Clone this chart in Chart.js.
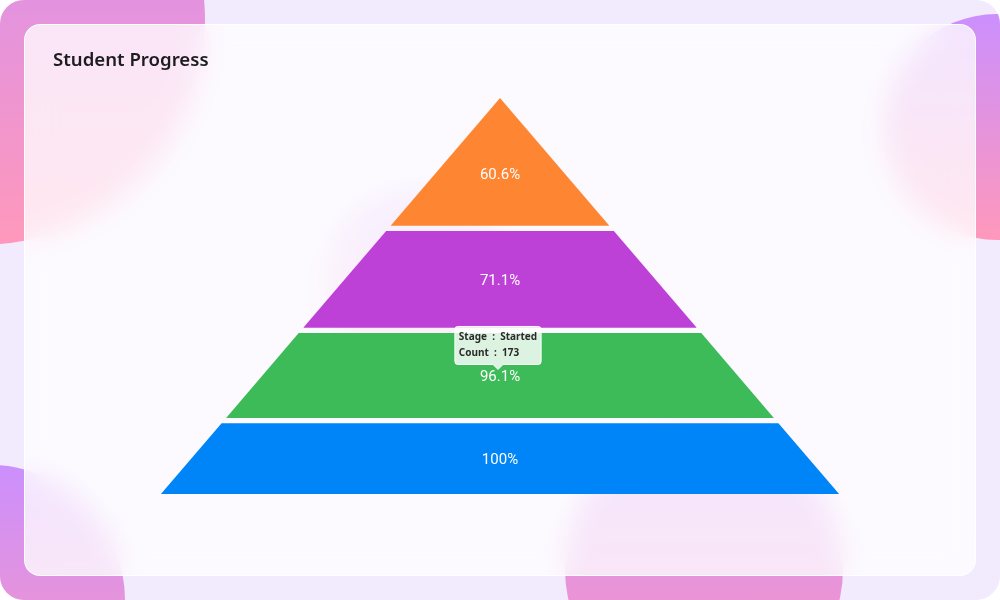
<!DOCTYPE html>
<html>
<head>
<meta charset="utf-8">
<title>Student Progress</title>
<script src="https://cdn.jsdelivr.net/npm/chart.js@4.4.1/dist/chart.umd.min.js"></script>
<style>
  html, body { margin: 0; padding: 0; background: #ffffff; }
  .frame {
    position: relative;
    width: 1000px;
    height: 600px;
    border-radius: 24px;
    overflow: hidden;
    background: #f2eafd;
  }
  .blob {
    position: absolute;
    border-radius: 50%;
    background: linear-gradient(180deg, #cb8ffd 0%, #ff98bb 100%);
  }
  .card {
    position: absolute;
    left: 24px;
    top: 24px;
    width: 952px;
    height: 552px;
    box-sizing: border-box;
    border-radius: 16px;
    border: 1px solid rgba(255, 255, 255, 0.9);
    background: rgba(255, 255, 255, 0.77);
    backdrop-filter: blur(14px);
  }
  .title {
    position: absolute;
    left: 28px;
    top: 25px;
    margin: 0;
    font: 600 18.6px "Noto Sans", sans-serif;
    line-height: 18px;
    color: #1d1d1f;
    z-index: 3;
  }
  #pyramid {
    position: absolute;
    left: 0;
    top: 0;
    z-index: 2;
  }
</style>
</head>
<body>
<div class="frame">
  <div class="blob" style="left:-245px; top:-205px; width:450px; height:450px;"></div>
  <div class="blob" style="left:884px; top:14px; width:226px; height:226px;"></div>
  <div class="blob" style="left:-145px; top:465px; width:270px; height:270px;"></div>
  <div class="blob" style="left:565px; top:430px; width:278px; height:278px;"></div>
  <div class="blob" style="left:325px; top:188px; width:190px; height:190px; opacity:0.5;"></div>
  <div class="card">
    <h3 class="title">Student Progress</h3>
  </div>
  <canvas id="pyramid" width="1000" height="600"></canvas>
</div>

<script>
// stages from top of the pyramid to the base
const stages = ['Completed', 'In Progress', 'Started', 'Enrolled'];
const counts = [109, 128, 173, 180];
const percentLabels = ['60.6%', '71.1%', '96.1%', '100%'];
// y values of the pyramid points (segment height is proportional to them)
const pyramidValues = [128, 97, 85, 71];

const segmentColors = ['#fe8531', '#be41d7', '#3cbb58', '#0085f8'];
const gapRatio = 0.04;

// linear pyramid: stack the values from the apex down, leave gaps between
const sum = pyramidValues.reduce((a, b) => a + b, 0);
const total = sum / (1 - gapRatio);
const spacing = (gapRatio * total) / (pyramidValues.length - 1);

const segments = [];
let cursor = 0;
pyramidValues.forEach((v) => {
  segments.push({ top: cursor, bottom: cursor + v });
  cursor += v + spacing;
});

const halfWidth = (y) => y / total;

const labelValue = (i) => {
  const s = segments[i];
  // the apex triangle puts its label a bit lower, like the original
  const pos = i === 0 ? 0.59 : 0.5;
  return s.top + (s.bottom - s.top) * pos;
};

const datasets = segments.map((s, i) => {
  const wt = halfWidth(s.top);
  const wb = halfWidth(s.bottom);
  return {
    label: stages[i],
    data: [
      { x: -wb, y: s.bottom },
      { x: -wt, y: s.top },
      { x: wt, y: s.top },
      { x: wb, y: s.bottom },
    ],
    showLine: true,
    tension: 0,
    fill: { value: s.bottom },
    backgroundColor: segmentColors[i],
    borderColor: 'transparent',
    borderWidth: 0,
    pointRadius: 0,
    pointHoverRadius: 0,
  };
});

Chart.Tooltip.positioners.stageLabel = function (items) {
  if (!items.length) {
    return false;
  }
  const chart = this.chart;
  const i = items[0].datasetIndex;
  return {
    x: chart.scales.x.getPixelForValue(0) - 2,
    y: chart.scales.y.getPixelForValue(labelValue(i)) - 6,
  };
};

const percentLabelPlugin = {
  id: 'percentLabels',
  afterDatasetsDraw(chart) {
    const { ctx, scales } = chart;
    ctx.save();
    ctx.font = '15px Roboto, sans-serif';
    ctx.fillStyle = '#ffffff';
    ctx.textAlign = 'center';
    ctx.textBaseline = 'middle';
    segments.forEach((s, i) => {
      ctx.fillText(percentLabels[i], scales.x.getPixelForValue(0), scales.y.getPixelForValue(labelValue(i)) + 2);
    });
    ctx.restore();
  },
};

const chart = new Chart(document.getElementById('pyramid'), {
  type: 'scatter',
  data: { datasets: datasets },
  options: {
    responsive: false,
    animation: false,
    events: [],
    layout: {
      padding: { left: 127, right: 127, top: 58.4, bottom: 66.4 },
    },
    scales: {
      x: { type: 'linear', min: -1.1, max: 1.1, display: false },
      y: { type: 'linear', min: -0.1 * total, max: 1.1 * total, reverse: true, display: false },
    },
    plugins: {
      legend: { display: false },
      tooltip: {
        position: 'stageLabel',
        yAlign: 'bottom',
        xAlign: 'center',
        backgroundColor: 'rgba(255, 255, 255, 0.82)',
        borderColor: 'rgba(255, 255, 255, 0.95)',
        borderWidth: 1,
        bodyColor: '#2b2b2b',
        bodyFont: { family: 'Noto Sans', size: 10, weight: 'bold' },
        bodySpacing: 4,
        padding: { x: 4, y: 5 },
        cornerRadius: 3,
        caretSize: 5,
        caretPadding: 0,
        displayColors: false,
        callbacks: {
          title: () => [],
          label: (ctx) => [
            'Stage  :  ' + stages[ctx.datasetIndex],
            'Count  :  ' + counts[ctx.datasetIndex],
          ],
        },
      },
    },
  },
  plugins: [percentLabelPlugin],
});

chart.tooltip.setActiveElements([{ datasetIndex: 2, index: 1 }], { x: 500, y: 370 });
chart.update();
</script>
</body>
</html>
